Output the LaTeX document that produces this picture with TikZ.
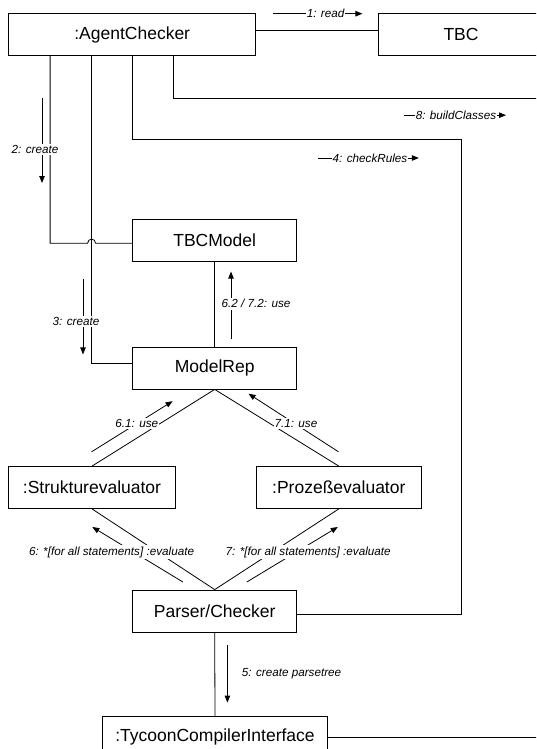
\documentclass[tikz,border=0pt]{standalone}
\usepackage{fontspec}
\setmainfont{Liberation Sans}
\usetikzlibrary{arrows.meta}

\tikzset{
  obj/.style={draw, line width=0.8pt, minimum height=42pt, inner sep=0pt,
              font=\fontsize{17.5}{20}\selectfont},
  link/.style={line width=0.8pt},
  msg/.style={line width=0.8pt, -{Triangle[length=7pt,width=5.5pt]}},
  msglabel/.style={fill=white, inner xsep=1pt, inner ysep=1.5pt,
                   font=\fontsize{11.7}{13}\selectfont\itshape}
}

\begin{document}
\begin{tikzpicture}[x=1pt, y=-1pt]
  \useasboundingbox (0,0) rectangle (536,749);
  \clip (0,0) rectangle (536,749);
  \fill[white] (0,0) rectangle (536,749);

  % objects
  \node[obj, minimum width=247pt] (ac)   at (132.2,34.7) {:AgentChecker};
  \node[obj, minimum width=165pt] (tbc)  at (461,34.7) {TBC};
  \node[obj, minimum width=164pt] (tbcm) at (214.7,240) {TBCModel};
  \node[obj, minimum width=164pt] (mr)   at (214.7,368) {ModelRep};
  \node[obj, minimum width=167pt] (se)   at (92,487.5) {:Strukturevaluator};
  \node[obj, minimum width=165pt] (pe)   at (338.8,487.5) {:Prozeßevaluator};
  \node[obj, minimum width=164pt] (pc)   at (214.7,611) {Parser/Checker};
  \node[obj, minimum width=225pt] (tci)  at (215,737.3) {:TycoonCompilerInterface};

  % links
  \draw[link] ([yshift=4pt]ac.east) -- ([yshift=4pt]tbc.west);
  \draw[link] ([xshift=41.8pt]ac.south west) |- (87.6,243.3)
        .. controls (87.6,237.8) and (95.6,237.8) .. (95.6,243.3)
        -- ([yshift=-3.3pt]tbcm.west);
  \draw[link] ([xshift=83.1pt]ac.south west) |- ([yshift=4.4pt]mr.west);
  \draw[link] ([xshift=124.1pt]ac.south west) |- (461.7,139.8)
        |- ([yshift=-3pt]pc.east);
  \draw[link] ([xshift=165.2pt]ac.south west) |- (545,98.5);
  \draw[link] (tbcm.south) -- (mr.north);
  \draw[link] (mr.south) -- (se.north);
  \draw[link] (mr.south) -- (pe.north);
  \draw[link] (se.south) -- (pc.north);
  \draw[link] (pe.south) -- (pc.north);
  \draw[link] (pc.south) -- (tci.north);
  \draw[link] (tci.east) -- (545,737.3);

  % messages
  \draw[msg] (272.8,13.7) -- (362.4,13.7);
  \node[msglabel] (m1) at (325.6,13.7) {1: read};

  \draw[msg] (404.4,115.2) -- (506,115.2);
  \node[msglabel] (m8) at (456,115.2) {8: buildClasses};

  \draw[msg] (318,158) -- (418.8,158);
  \node[msglabel] (m4) at (370,158) {4: checkRules};

  \draw[msg] (42,98.5) -- (42,183);
  \node[msglabel] (m2) at (35,149.4) {2: create};

  \draw[msg] (83,279) -- (83,354.4);
  \node[msglabel] (m3) at (76,321.2) {3: create};

  \draw[msg] (231,339) -- (231,271.6);
  \node[msglabel] (m62) at (256,303.8) {6.2 / 7.2: use};

  \draw[msg] (91.6,451.8) -- (172.6,401.2);
  \node[msglabel] (m61) at (136.8,423.8) {6.1: use};

  \draw[msg] (338.5,451.8) -- (248.5,393.7);
  \node[msglabel] (m71) at (296,423.8) {7.1: use};

  \draw[msg] (182.9,582) -- (92.3,527);
  \node[msglabel] (m6) at (111.6,552) {6: *[for all statements] :evaluate};

  \draw[msg] (246.8,582) -- (337.8,527);
  \node[msglabel] (m7) at (308.2,552) {7: *[for all statements] :evaluate};

  \draw[msg] (227.4,644.5) -- (227.4,702.6);
  \node[msglabel] (m5) at (291.6,673.2) {5: create parsetree};
\end{tikzpicture}
\end{document}
